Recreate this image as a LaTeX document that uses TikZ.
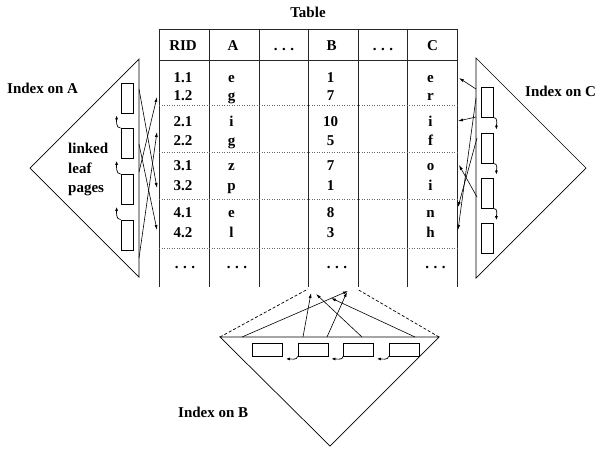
\documentclass[tikz,border=0pt]{standalone}
\usepackage{fontspec}
\setmainfont{Liberation Serif}
\usetikzlibrary{arrows.meta,calc}
\newcommand\mydots{.\hspace{4.5pt}.\hspace{4.5pt}.}
\begin{document}
\begin{tikzpicture}[x=1pt,y=-1pt,
  txt/.style={font=\fontsize{15}{18}\selectfont\bfseries, inner sep=0pt},
  tline/.style={line width=0.9pt, draw=black!85},
  sepline/.style={line width=0.7pt, draw=black!60, dash pattern=on 1pt off 1.5pt},
  tri/.style={line width=0.7pt},
  dtri/.style={line width=0.7pt, dash pattern=on 3pt off 2pt},
  leaf/.style={draw, line width=0.8pt, inner sep=0pt, minimum width=12pt, minimum height=30pt},
  bleaf/.style={draw, line width=0.8pt, inner sep=0pt, minimum width=30pt, minimum height=13pt},
  ptr/.style={line width=0.6pt, -{Latex[length=5pt,width=3pt]}},
  link/.style={line width=0.7pt, -{Latex[length=4pt,width=3pt]}},
]
\useasboundingbox (0,0) rectangle (599,448);

% ---------------- Table ----------------
\node[txt,anchor=base] (ttl) at (308,17) {Table};
\draw[tline] (159,29) -- (457,29);
\draw[tline] (159,60) -- (457,60);
\foreach \x/\k in {159/0,209/1,259/2,308/3,358/4,407/5,457/6}
  \draw[tline] (\x,29) -- (\x,287);
\foreach \y in {105,152,199,248}
  \draw[sepline] (159,\y) -- (457,\y);

\node[txt,anchor=base] (hRID) at (183,50) {RID};
\node[txt,anchor=base] (hA) at (233,50) {A};
\node[txt,anchor=base] (hd1) at (284,50) {\mydots};
\node[txt,anchor=base] (hB) at (331.5,50) {B};
\node[txt,anchor=base] (hd2) at (383,50) {\mydots};
\node[txt,anchor=base] (hC) at (432.5,50) {C};

\foreach \n/\y/\r/\a/\b/\c in {1/82/1.1/e/1/e, 2/100/1.2/g/7/r, 3/126/2.1/i/10/i,
    4/145/2.2/g/5/f, 5/170/3.1/z/7/o, 6/190/3.2/p/1/i, 7/217/4.1/e/8/n, 8/237/4.2/l/3/h}{
  \node[txt,anchor=base] (rid\n) at (183,\y) {\r};
  \node[txt,anchor=base] (va\n) at (231.5,\y) {\a};
  \node[txt,anchor=base] (vb\n) at (330.5,\y) {\b};
  \node[txt,anchor=base] (vc\n) at (430.5,\y) {\c};
}
\node[txt,anchor=base] (dr) at (185,268) {\mydots};
\node[txt,anchor=base] (da) at (237,268) {\mydots};
\node[txt,anchor=base] (db) at (337,268) {\mydots};
\node[txt,anchor=base] (dc) at (435.5,268) {\mydots};

% ---------------- Index on A ----------------
\coordinate (lt) at (139,59);
\coordinate (lm) at (30,168);
\coordinate (lb) at (139,277);
\draw[tri] (lt) -- (lm) -- (lb) -- cycle;
\node[txt,anchor=base west] (idxA) at (7,93) {Index on A};
\node[txt,anchor=base west] (lk1) at (68,153) {linked};
\node[txt,anchor=base west] (lk2) at (68,173) {leaf};
\node[txt,anchor=base west] (lk3) at (68,192) {pages};
\node[leaf] (la1) at (127,98) {};
\node[leaf] (la2) at (127,143.5) {};
\node[leaf] (la3) at (127,189.5) {};
\node[leaf] (la4) at (127,235) {};
\foreach \u/\l in {la1/la2,la2/la3,la3/la4}
  \draw[link] (\l.north west) .. controls +(-5,0) and +(0,5) .. ($(\u.south west)+(-4,2)$);

\coordinate (ls1) at (139,89);  \coordinate (le1) at (157,188);
\coordinate (ls2) at (139,144); \coordinate (le2) at (157,230);
\coordinate (ls3) at (139,172); \coordinate (le3) at (157,97);
\coordinate (ls4) at (139,258); \coordinate (le4) at (157,132);
\foreach \i in {1,2,3,4} \draw[ptr] (ls\i) -- (le\i);

% ---------------- Index on C ----------------
\coordinate (rt) at (476,58);
\coordinate (rm) at (586,168);
\coordinate (rb) at (476,278);
\draw[tri] (rt) -- (rm) -- (rb) -- cycle;
\node[txt,anchor=base west] (idxC) at (525,96) {Index on C};
\node[leaf] (ra1) at (487,102) {};
\node[leaf] (ra2) at (487,148) {};
\node[leaf] (ra3) at (487,193) {};
\node[leaf] (ra4) at (487,238.5) {};
\foreach \u/\l in {ra1/ra2,ra2/ra3,ra3/ra4}
  \draw[link] (\u.south east) .. controls +(5,0) and +(0,-5) .. ($(\l.north east)+(3,-3)$);

\coordinate (rs1) at (476,89);  \coordinate (re1) at (459,78);
\coordinate (rs2) at (476,117); \coordinate (re2) at (458,121);
\coordinate (rs3) at (476,98);  \coordinate (re3) at (458,230);
\coordinate (rs4) at (477,138); \coordinate (re4) at (458,207);
\coordinate (rs5) at (477,197); \coordinate (re5) at (459,165);
\foreach \i in {1,2,3,4,5} \draw[ptr] (rs\i) -- (re\i);

% ---------------- Index on B ----------------
\coordinate (bl) at (220,337);
\coordinate (br) at (439,337);
\coordinate (bb) at (330,446);
\draw[tri] (bl) -- (br) -- (bb) -- cycle;
\coordinate (tbl) at (308,289);
\coordinate (tbr) at (357,289);
\draw[dtri] (bl) -- (tbl);
\draw[dtri] (br) -- (tbr);
\node[txt,anchor=base west] (idxB) at (178,417) {Index on B};
\node[bleaf] (ba1) at (267.5,349.5) {};
\node[bleaf] (ba2) at (313,349.5) {};
\node[bleaf] (ba3) at (358.5,349.5) {};
\node[bleaf] (ba4) at (404,349.5) {};
\foreach \u/\l in {ba1/ba2,ba2/ba3,ba3/ba4}
  \draw[link] (\l.south west) .. controls +(0,4) and +(4,0) .. ($(\u.south east)+(3,2.5)$);

\coordinate (bs1) at (242,337); \coordinate (be1) at (348,291);
\coordinate (bs2) at (303,337); \coordinate (be2) at (311,293);
\coordinate (bs3) at (327,337); \coordinate (be3) at (347,292);
\coordinate (bs4) at (362,337); \coordinate (be4) at (316,294);
\coordinate (bs5) at (415,337); \coordinate (be5) at (331,298);
\foreach \i in {1,2,3,4,5} \draw[ptr] (bs\i) -- (be\i);
\end{tikzpicture}
\end{document}
